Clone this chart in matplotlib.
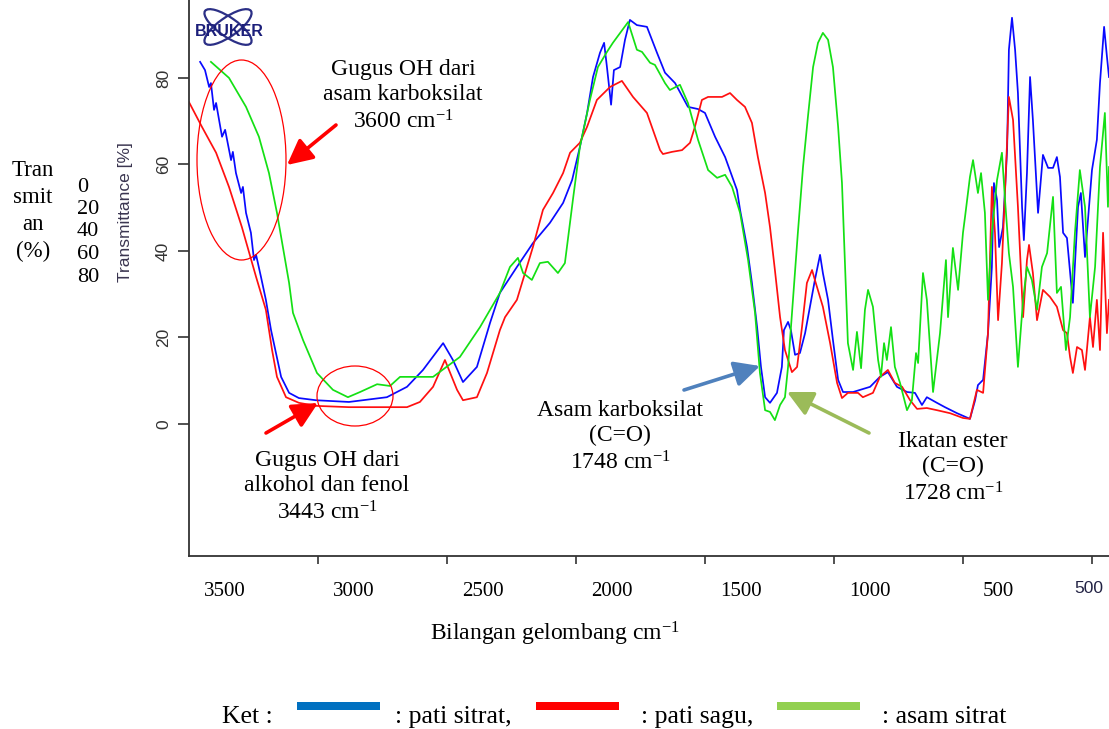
import matplotlib
matplotlib.use("Agg")
import matplotlib.pyplot as plt
from matplotlib.patches import Ellipse, Rectangle

# ---------------- data (wavenumber cm-1, transmittance %) ----------------
blue_wn = [3957, 3938, 3922, 3915, 3903, 3895, 3872, 3860, 3837, 3830, 3818, 3798, 3791, 3779, 3760, 3748, 3740,
           3721, 3702, 3682, 3663, 3643, 3612, 3574, 3508, 3380, 3233, 3155, 3093, 3015, 2977, 2938, 2884, 2833,
           2795, 2729, 2667, 2601, 2550, 2515, 2485, 2457, 2434, 2407, 2391, 2380, 2364, 2353, 2329, 2310, 2291,
           2264, 2225, 2186, 2155, 2116, 2066, 2027, 2000, 1961, 1922, 1876, 1864, 1837, 1818, 1798, 1783, 1767,
           1748, 1721, 1702, 1694, 1678, 1667, 1651, 1632, 1612, 1593, 1574, 1554, 1543, 1523, 1504, 1484, 1465,
           1426, 1399, 1360, 1322, 1291, 1256, 1217, 1186, 1159, 1140, 1101, 1070, 1023, 973, 953, 942, 922, 903,
           888, 880, 868, 860, 845, 829, 822, 810, 798, 787, 771, 764, 752, 740, 729, 709, 690, 670, 651, 636, 624,
           612, 597, 574, 554, 543, 527, 500, 481, 469, 453, 442, 434]
blue_t = [83.7, 81.8, 77.9, 78.8, 72.6, 74.2, 66.4, 68.0, 61.0, 62.9, 58.0, 53.4, 54.8, 48.8, 44.2, 37.9, 39.1,
          34.0, 28.7, 21.7, 16.4, 10.9, 7.2, 6.0, 5.5, 5.1, 6.2, 8.6, 12.5, 18.7, 14.8, 9.7, 13.2, 23.4,
          30.3, 36.3, 41.8, 46.5, 51.1, 56.4, 64.0, 71.9, 80.2, 85.8, 88.1, 82.5, 73.8, 81.8, 82.5, 88.8, 93.4,
          92.2, 91.8, 85.8, 81.2, 78.8, 73.3, 72.8, 71.9, 66.4, 61.7, 54.1, 49.5, 40.9, 32.6, 22.4, 13.2, 6.2,
          4.9, 7.2, 13.2, 21.7, 23.6, 21.7, 16.0, 16.4, 21.0, 27.1, 33.3, 39.1, 34.9, 28.7, 19.4, 10.2, 7.4,
          7.4, 7.9, 8.6, 10.9, 12.0, 8.6, 7.4, 7.2, 4.4, 6.2, 4.9, 3.9, 2.5, 1.2, 5.5, 9.0, 10.2, 21.0,
          36.3, 55.7, 51.8, 40.9, 45.5, 63.3, 86.5, 93.9, 86.5, 76.5, 50.2, 42.5, 58.0, 80.2, 70.3, 48.8, 62.2,
          59.2, 59.2, 61.7, 57.1, 44.2, 43.0, 28.0, 50.2, 53.4, 38.6, 58.7, 65.7, 78.8, 91.8, 84.9, 80.2]

red_wn = [4000, 3950, 3895, 3845, 3795, 3740, 3702, 3678, 3659, 3624, 3574, 3508, 3380, 3155, 3105, 3054, 3008,
          2961, 2938, 2884, 2845, 2795, 2775, 2729, 2667, 2628, 2589, 2550, 2523, 2485, 2457, 2419, 2368, 2322,
          2279, 2225, 2174, 2163, 2128, 2089, 2058, 2039, 2012, 1988, 1934, 1903, 1876, 1845, 1818, 1795, 1767,
          1748, 1729, 1709, 1690, 1663, 1643, 1624, 1605, 1585, 1574, 1543, 1515, 1488, 1469, 1446, 1407, 1388,
          1349, 1322, 1291, 1264, 1236, 1205, 1178, 1140, 1101, 1050, 1000, 973, 946, 922, 903, 888, 876, 864,
          849, 833, 822, 806, 787, 767, 752, 744, 729, 713, 690, 663, 636, 612, 597, 585, 574, 558, 539, 527,
          508, 496, 481, 469, 457, 442, 434]
red_t = [74.4, 68.7, 62.7, 54.8, 45.5, 34.0, 26.4, 17.1, 10.9, 6.2, 4.9, 4.2, 3.9, 3.9, 5.1, 8.6, 14.8,
         7.9, 5.5, 6.2, 11.8, 21.7, 24.7, 28.7, 40.9, 49.5, 53.4, 58.0, 62.7, 65.0, 68.7, 74.9, 77.9, 79.3,
         75.6, 71.9, 63.3, 62.4, 62.9, 63.3, 65.0, 68.7, 74.9, 75.6, 75.6, 76.5, 74.9, 73.3, 69.6, 61.7, 53.4,
         45.5, 35.6, 24.7, 17.1, 12.0, 13.2, 22.4, 32.6, 35.6, 33.3, 27.1, 18.7, 9.5, 6.0, 7.2, 7.2, 6.2,
         7.2, 10.9, 12.5, 9.5, 8.6, 5.5, 3.5, 3.7, 3.2, 2.5, 1.4, 1.2, 7.9, 7.2, 21.0, 54.8, 44.2, 24.0,
         37.2, 59.4, 75.6, 70.3, 50.2, 24.7, 37.9, 41.4, 34.9, 24.0, 31.0, 29.4, 27.1, 21.7, 21.0, 15.5, 11.8,
         17.8, 17.1, 12.5, 24.7, 17.8, 28.7, 17.1, 44.2, 21.0, 28.7]

green_wn = [3915, 3845, 3779, 3729, 3690, 3659, 3632, 3612, 3597, 3558, 3504, 3442, 3384, 3337, 3271, 3221, 3182,
            3054, 2950, 2872, 2795, 2756, 2725, 2705, 2671, 2640, 2609, 2570, 2543, 2512, 2485, 2446, 2415, 2380,
            2357, 2298, 2264, 2244, 2213, 2194, 2155, 2136, 2097, 2066, 2027, 1988, 1953, 1922, 1895, 1864, 1833,
            1806, 1787, 1767, 1748, 1729, 1709, 1690, 1678, 1659, 1640, 1620, 1601, 1581, 1562, 1543, 1523, 1504,
            1484, 1469, 1457, 1446, 1426, 1411, 1395, 1380, 1368, 1349, 1329, 1318, 1306, 1295, 1279, 1264, 1244,
            1217, 1198, 1182, 1174, 1155, 1140, 1116, 1089, 1066, 1058, 1039, 1019, 1000, 992, 973, 961, 942, 930,
            915, 903, 888, 868, 849, 837, 822, 806, 787, 767, 752, 733, 713, 694, 674, 651, 636, 620, 601, 585,
            566, 547, 527, 508, 488, 469, 450, 438, 434]
green_t = [83.7, 80.0, 73.3, 66.4, 58.0, 48.8, 39.5, 32.6, 25.7, 19.4, 11.8, 7.9, 6.2, 7.4, 9.2, 8.8, 10.9,
           10.9, 15.5, 22.4, 30.3, 36.3, 38.4, 34.9, 33.3, 37.2, 37.5, 34.9, 37.2, 51.8, 64.0, 74.9, 82.5, 86.0,
           88.1, 92.9, 86.5, 86.0, 83.5, 83.0, 78.8, 77.2, 78.4, 74.2, 65.7, 58.7, 56.9, 57.6, 54.8, 48.8, 37.9,
           25.7, 11.8, 3.2, 2.8, 0.9, 4.4, 6.2, 13.2, 28.7, 44.2, 59.4, 71.0, 82.5, 88.1, 90.4, 88.8, 82.5,
           68.7, 55.7, 36.3, 18.7, 12.5, 21.3, 12.9, 26.4, 31.0, 27.1, 14.8, 10.9, 18.7, 14.8, 22.4, 13.2, 9.5,
           3.2, 5.5, 16.4, 14.1, 34.9, 28.7, 7.4, 21.0, 37.9, 24.7, 40.7, 31.0, 44.2, 47.9, 57.1, 61.0, 53.4, 58.0,
           48.8, 28.7, 44.2, 56.4, 62.7, 51.8, 39.5, 31.7, 13.2, 28.7, 36.3, 33.3, 26.4, 36.3, 39.5, 52.5, 30.3,
           31.7, 17.1, 24.7, 44.2, 58.7, 50.2, 24.7, 36.3, 59.4, 71.9, 50.2, 59.4]

x_ticks = [3500, 3000, 2500, 2000, 1500, 1000, 500]
x_overlay_labels = ["3500", "3000", "2500", "2000", "1500", "1000", "500"]
y_ticks = [0, 20, 40, 60, 80]
series_names = ["pati sitrat", "pati sagu", "asam sitrat"]

# ---------------- style ----------------
W, H = 1109, 729
plt.rcParams['font.family'] = ['Liberation Serif', 'DejaVu Serif']
plt.rcParams['mathtext.fontset'] = 'custom'
plt.rcParams['mathtext.rm'] = 'Liberation Serif'
plt.rcParams['mathtext.it'] = 'Liberation Serif:italic'

fig = plt.figure(figsize=(W / 100, H / 100), dpi=100)
ax = fig.add_axes([189 / W, 1 - 556 / H, 920 / W, 556 / H])

ax.plot(blue_wn, blue_t, color='#0a0aff', lw=1.25)
ax.plot(red_wn, red_t, color='#ff1010', lw=1.25)
ax.plot(green_wn, green_t, color='#14e014', lw=1.25)

ax.set_xlim(4000, 434)
ax.set_ylim(-30.5, 98)
for s in ['top', 'right']:
    ax.spines[s].set_visible(False)
for s in ['left', 'bottom']:
    ax.spines[s].set_color('#333333')
    ax.spines[s].set_linewidth(1.3)

ax.set_xticks(x_ticks)
ax.set_xticklabels([''] * len(x_ticks))
ax.tick_params(axis='x', direction='out', length=5.5, width=1.2, color='#333333')
ax.set_yticks(y_ticks)
ax.set_yticklabels([str(v) for v in y_ticks], rotation=90, va='center',
                   fontfamily='Liberation Sans', fontsize=12.5, color='#333333')
ax.tick_params(axis='y', direction='out', length=8, width=1.2, color='#333333', pad=5)
ax.set_ylabel('Transmittance [%]', fontfamily='Liberation Sans', fontsize=12.5, color='#3a3550')
ax.yaxis.set_label_coords(-0.0609, 0.619)

# overlay (retyped) x labels, shifted from the real ticks
offset = 362
xt = ax.get_xaxis_transform()
for v, lab in zip(x_ticks, x_overlay_labels):
    ax.text(v + offset, -0.0647, lab, transform=xt, ha='center', va='center', fontsize=15)
ax.text(512, -0.058, '500', transform=xt, ha='center', va='center', fontsize=12.5,
        fontfamily='Liberation Sans', color='#222244')

T = fig.dpi_scale_trans


def P(x, y):
    return (x / 100, (H - y) / 100)


fig.text(*P(555, 634), 'Bilangan gelombang cm$^{-1}$', transform=T, ha='center', va='center', fontsize=17)

# left overlay labels
fig.text(*P(33, 211), 'Tran\nsmit\nan\n(%)', transform=T, ha='center', va='center', fontsize=16.5,
         linespacing=1.36)
fig.text(*P(77, 232), '0\n20\n40\n60\n80', transform=T, ha='left', va='center', fontsize=16,
         linespacing=1.25)

# annotations
ann_kw = dict(transform=T, ha='center', va='center', fontsize=17, linespacing=1.28)
fig.text(*P(403, 96), 'Gugus OH dari\nasam karboksilat\n3600 cm$^{-1}$', **ann_kw)
fig.text(*P(327, 487), 'Gugus OH dari\nalkohol dan fenol\n3443 cm$^{-1}$', **ann_kw)
fig.text(*P(620, 437), 'Asam karboksilat\n(C=O)\n1748 cm$^{-1}$', **ann_kw)
fig.text(*P(953, 468), 'Ikatan ester\n(C=O)\n1728 cm$^{-1}$', **ann_kw)


def arrow(x0, y0, x1, y1, color):
    ax.annotate('', xy=P(x1, y1), xytext=P(x0, y0), xycoords=T, textcoords=T,
                arrowprops=dict(arrowstyle='-|>,head_length=0.7,head_width=0.35', color=color, lw=2.6,
                                mutation_scale=22, shrinkA=0, shrinkB=0),
                annotation_clip=False)


arrow(336, 125, 287, 165, '#ff0000')
arrow(266, 433, 318, 403, '#ff0000')
arrow(684, 390, 760, 366, '#4f81bd')
arrow(869, 433, 787, 392, '#9bbb59')

for (cx, cy, w, h) in [(241.5, 160, 89, 200), (355, 396, 76, 60)]:
    fig.patches.append(Ellipse(P(cx, cy), w / 100, h / 100, transform=T, fill=False,
                               edgecolor='#ff0000', lw=0.9, figure=fig))

# Bruker logo
for ang in (35, -35):
    fig.patches.append(Ellipse(P(228, 27), 0.56, 0.19, angle=ang, transform=T, fill=False,
                               edgecolor='#2b2f86', lw=1.6, figure=fig))
fig.text(*P(229, 31), 'BRUKER', transform=T, ha='center', va='center', fontsize=11.5,
         fontweight='bold', fontfamily='Liberation Sans', color='#1c1f7a')

# legend line
fig.text(*P(222, 717), 'Ket :', transform=T, ha='left', va='center', fontsize=18.5)
legend_colors = ['#0070c0', '#ff0000', '#92d050']
bar_x = [297, 536, 777]
text_x = [395, 641, 882]
labels = [': ' + series_names[0] + ',', ': ' + series_names[1] + ',', ': ' + series_names[2]]
for bx, tx, c, lab in zip(bar_x, text_x, legend_colors, labels):
    fig.patches.append(Rectangle(P(bx, 710), 0.83, 0.08, transform=T, facecolor=c,
                                 edgecolor='none', figure=fig))
    fig.text(*P(tx, 717), lab, transform=T, ha='left', va='center', fontsize=18.5)

fig.savefig('out.png', dpi=100)
